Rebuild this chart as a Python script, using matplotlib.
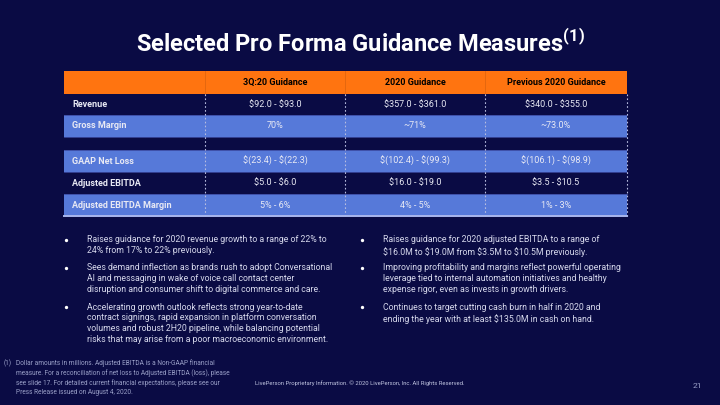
import matplotlib.pyplot as plt
from matplotlib.patches import Rectangle

# table data
col_heads = ['3Q:20 Guidance', '2020 Guidance', 'Previous 2020 Guidance']
row_labels = ['Revenue', 'Gross Margin', '', 'GAAP Net Loss', 'Adjusted EBITDA', 'Adjusted EBITDA Margin']
q3_20 = ['$92.0 - $93.0', '70%', '', '$(23.4) - $(22.3)', '$5.0 - $6.0', '5% - 6%']
fy_2020 = ['$357.0 - $361.0', '~71%', '', '$(102.4) - $(99.3)', '$16.0 - $19.0', '4% - 5%']
prev_2020 = ['$340.0 - $355.0', '~73.0%', '', '$(106.1) - $(98.9)', '$3.5 - $10.5', '1% - 3%']

left_bullets = [
    'Raises guidance for 2020 revenue growth to a range of 22% to\n24% from 17% to 22% previously.',
    'Sees demand inflection as brands rush to adopt Conversational\nAI and messaging in wake of voice call contact center\ndisruption and consumer shift to digital commerce and care.',
    'Accelerating growth outlook reflects strong year-to-date\ncontract signings, rapid expansion in platform conversation\nvolumes and robust 2H20 pipeline, while balancing potential\nrisks that may arise from a poor macroeconomic environment.',
]
right_bullets = [
    'Raises guidance for 2020 adjusted EBITDA to a range of\n$16.0M to $19.0M from $3.5M to $10.5M previously.',
    'Improving profitability and margins reflect powerful operating\nleverage tied to internal automation initiatives and healthy\nexpense rigor, even as invests in growth drivers.',
    'Continues to target cutting cash burn in half in 2020 and\nending the year with at least $135.0M in cash on hand.',
]
footnote = ('Dollar amounts in millions. Adjusted EBITDA is a Non-GAAP financial\n'
            'measure. For a reconciliation of net loss to Adjusted EBITDA (loss), please\n'
            'see slide 17. For detailed current financial expectations, please see our\n'
            'Press Release issued on August 4, 2020.')

BG = '#0a0b44'
ORANGE = '#ff7410'
BLUE = '#5679d9'
TXT = '#e8e9f4'

plt.rcParams['font.family'] = ['Roboto', 'DejaVu Sans']
fig = plt.figure(figsize=(7.2, 4.05), dpi=100, facecolor=BG)
ax = fig.add_axes([0, 0, 1, 1])
ax.set_xlim(0, 720)
ax.set_ylim(405, 0)
ax.axis('off')

# title
ax.text(360, 43, r'Selected Pro Forma Guidance Measures$^{\mathregular{(1)}}$', color='white',
        fontsize=17, fontweight='bold', ha='center', va='center')

# table geometry
col_x = [64, 205, 345, 485, 627]
row_y = [94, 115, 137, 150, 172, 194, 216]
hdr_top = 71

ax.add_patch(Rectangle((col_x[0], hdr_top), col_x[-1] - col_x[0], row_y[0] - hdr_top,
                       facecolor=ORANGE, edgecolor='none'))
for x in col_x[1:-1]:
    ax.plot([x, x], [hdr_top, row_y[0]], color='#e0650e', lw=0.6)
for j, h in enumerate(col_heads):
    ax.text((col_x[j + 1] + col_x[j + 2]) / 2, (hdr_top + row_y[0]) / 2, h, color='black',
            fontsize=6.5, fontweight='bold', ha='center', va='center')

fills = [BG, BLUE, BG, BLUE, BG, BLUE]
for i, lab in enumerate(row_labels):
    y0, y1 = row_y[i], row_y[i + 1]
    ax.add_patch(Rectangle((col_x[0], y0), col_x[-1] - col_x[0], y1 - y0,
                           facecolor=fills[i], edgecolor='none'))
    ax.plot([col_x[0], col_x[-1]], [y1, y1], color='#3b4aa0', lw=0.6)
    yc = (y0 + y1) / 2
    ax.text(col_x[0] + 8, yc, lab, color=TXT, fontsize=6.5, fontweight='bold', va='center')
    for j, vals in enumerate([q3_20, fy_2020, prev_2020]):
        ax.text((col_x[j + 1] + col_x[j + 2]) / 2, yc, vals[i], color=TXT, fontsize=6.5,
                ha='center', va='center', parse_math=False)

for x in col_x[1:]:
    ax.plot([x, x], [row_y[0], row_y[-1]], color='#b8bde0', lw=0.8, ls=(0, (1.5, 2)))
ax.plot([col_x[0], col_x[-1]], [row_y[-1], row_y[-1]], color='#a9b6ec', lw=1.4)

# bullets
def bullets(items, xb, xt, tops):
    for t, y in zip(items, tops):
        ax.plot(xb, y + 4.5, 'o', color='white', markersize=2.4, markeredgewidth=0)
        ax.text(xt, y, t, color='#d6d8ec', fontsize=6.3, va='top', linespacing=1.26,
                parse_math=False)

bullets(left_bullets, 66, 87, [235.5, 263.5, 302.5])
bullets(right_bullets, 362, 383, [235.5, 263.5, 302.5])

# footer
ax.text(4, 359.5, '(1)', color='#9aa0c8', fontsize=4.7, va='top')
ax.text(16, 359.5, footnote, color='#9aa0c8', fontsize=4.7, va='top', linespacing=1.35)
ax.text(360, 383, 'LivePerson Proprietary Information. \u00a9 2020 LivePerson, Inc. All Rights Reserved.',
        color='#c0c4e0', fontsize=4.25, ha='center', va='center')
ax.text(697, 386, '21', color='#9aa0c8', fontsize=6, ha='center', va='center')

plt.savefig('out.png', dpi=100, facecolor=BG)
